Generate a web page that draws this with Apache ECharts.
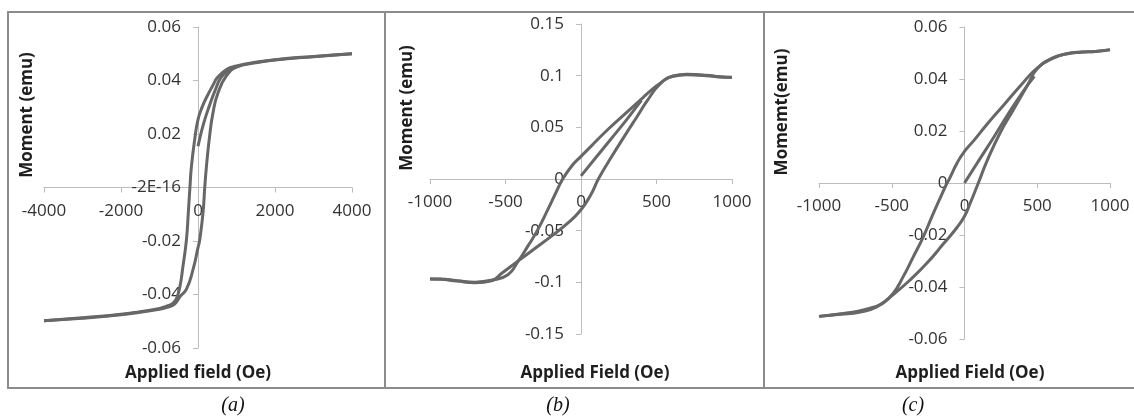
<!DOCTYPE html>
<html lang="en">
<head>
<meta charset="UTF-8">
<title>hysteresis loops</title>
<script src="https://cdn.jsdelivr.net/npm/echarts@6/dist/echarts.min.js"></script>
<style>
  html, body { margin: 0; padding: 0; background: #fff; }
</style>
</head>
<body>
<div id="container" style="width:1134px;height:419px;"></div>

<script>
// ---- panel (a) ----
var aVirginField  = [0, 100, 200, 300, 450, 600, 800, 1000];
var aVirginMoment = [0.0154, 0.0215, 0.0265, 0.0307, 0.0365, 0.0412, 0.0438, 0.0452];
var aDownField  = [4000, 3000, 2000, 1500, 1000, 750, 500, 380, 250, 120, 0, -85, -170, -210, -250, -300, -390, -475, -560, -650, -800, -1000, -1500, -2000, -3000, -4000];
var aDownMoment = [0.0500, 0.0490, 0.0478, 0.0468, 0.0454, 0.0442, 0.0410, 0.0380, 0.0345, 0.0305, 0.0254, 0.0180, 0.0080, 0.0000, -0.0090, -0.0195, -0.0294, -0.0375, -0.0415, -0.0432, -0.0443, -0.0452, -0.0464, -0.0474, -0.0487, -0.0498];
var aUpField  = [-4000, -3000, -2000, -1500, -1000, -800, -650, -560, -450, -300, -130, 0, 45, 130, 175, 220, 300, 390, 520, 740, 1000, 1500, 2000, 3000, 4000];
var aUpMoment = [-0.0498, -0.0489, -0.0476, -0.0466, -0.0455, -0.0448, -0.0440, -0.0428, -0.0405, -0.0380, -0.0307, -0.0225, -0.0195, -0.0095, 0.0000, 0.0080, 0.0190, 0.0280, 0.0354, 0.0418, 0.0450, 0.0466, 0.0477, 0.0489, 0.0500];

// ---- panel (b) ----
var bVirginField  = [0, 100, 200, 300, 400];
var bVirginMoment = [0.003, 0.021, 0.039, 0.057, 0.076];
var bDownField  = [1000, 920, 830, 700, 610, 527, 450, 396, 286, 176, 66, 0, -60, -121, -165, -220, -286, -352, -418, -484, -593, -700, -820, -930, -1000];
var bDownMoment = [0.0984, 0.0990, 0.1005, 0.1013, 0.0997, 0.0930, 0.0840, 0.0768, 0.0623, 0.0477, 0.0316, 0.0219, 0.0128, 0.0000, -0.0128, -0.0297, -0.0490, -0.0650, -0.0800, -0.0926, -0.0980, -0.0998, -0.0985, -0.0968, -0.0967];
var bUpField  = [-1000, -930, -820, -700, -593, -527, -418, -308, -198, -88, 0, 66, 115, 198, 286, 374, 440, 527, 610, 700, 830, 920, 1000];
var bUpMoment = [-0.0967, -0.0970, -0.0988, -0.1003, -0.0985, -0.0915, -0.0795, -0.0675, -0.0555, -0.0428, -0.0297, -0.0150, 0.0000, 0.0205, 0.0410, 0.0610, 0.0760, 0.0925, 0.0995, 0.1010, 0.1000, 0.0987, 0.0982];

// ---- panel (c) ----
var cVirginField  = [0, 100, 200, 300, 400, 480];
var cVirginMoment = [0.0000, 0.0088, 0.0175, 0.0265, 0.0350, 0.0410];
var cDownField  = [1000, 900, 800, 700, 610, 501, 386, 270, 155, 62, 0, -50, -105, -120, -169, -226, -284, -353, -423, -492, -560, -620, -723, -850, -1000];
var cDownMoment = [0.0513, 0.0506, 0.0504, 0.0497, 0.0480, 0.0443, 0.0375, 0.0300, 0.0226, 0.0162, 0.0122, 0.0078, 0.0015, 0.0000, -0.0060, -0.0132, -0.0208, -0.0285, -0.0362, -0.0426, -0.0460, -0.0477, -0.0492, -0.0503, -0.0513];
var cUpField  = [-1000, -850, -723, -607, -492, -376, -261, -145, -53, 0, 39, 95, 155, 247, 339, 432, 501, 610, 700, 800, 900, 1000];
var cUpMoment = [-0.0513, -0.0505, -0.0497, -0.0478, -0.0430, -0.0374, -0.0310, -0.0234, -0.0172, -0.0128, -0.0078, 0.0000, 0.0085, 0.0195, 0.0285, 0.0375, 0.0440, 0.0482, 0.0496, 0.0503, 0.0506, 0.0512];

// axis ranges [min, max, interval] and texts
var xRanges = [[-4000, 4000, 2000], [-1000, 1000, 500], [-1000, 1000, 500]];
var yRanges = [[-0.06, 0.06, 0.02], [-0.15, 0.15, 0.05], [-0.06, 0.06, 0.02]];
var yTitles = ['Moment (emu)', 'Moment (emu)', 'Momemt(emu)'];
var xTitles = ['Applied field (Oe)', 'Applied Field (Oe)', 'Applied Field (Oe)'];
var captions = ['(a)', '(b)', '(c)'];

function zip(xs, ys) {
  var out = [];
  for (var i = 0; i < xs.length; i++) out.push([xs[i], ys[i]]);
  return out;
}

var grids = [
  {left: 44, top: 27, width: 308, height: 321, outerBoundsMode: 'none'},
  {left: 430, top: 24, width: 302, height: 310, outerBoundsMode: 'none'},
  {left: 819, top: 27, width: 291, height: 312, outerBoundsMode: 'none'}
];
var yTitlePos = [[27, 115], [407, 108], [782, 112]];
var xTitlePos = [[198, 373], [595, 373], [970, 373]];
var captionPos = [[233, 406], [558, 406], [913, 406]];

var labelFont = {fontFamily: 'Open Sans', fontSize: 17, color: '#333'};
var axisLineStyle = {color: '#bdbdbd', width: 1};

var xAxes = [], yAxes = [], series = [], graphics = [];
var panels = [
  [aVirginField, aVirginMoment, aDownField, aDownMoment, aUpField, aUpMoment],
  [bVirginField, bVirginMoment, bDownField, bDownMoment, bUpField, bUpMoment],
  [cVirginField, cVirginMoment, cDownField, cDownMoment, cUpField, cUpMoment]
];

for (var p = 0; p < 3; p++) {
  xAxes.push({
    type: 'value', gridIndex: p, position: 'bottom',
    min: xRanges[p][0], max: xRanges[p][1], interval: xRanges[p][2],
    axisLine: {onZero: false, lineStyle: axisLineStyle},
    axisTick: {show: true, length: 5, lineStyle: axisLineStyle},
    splitLine: {show: false},
    axisLabel: Object.assign({margin: 15, formatter: function (v) { return String(v); }}, labelFont)
  });
  yAxes.push({
    type: 'value', gridIndex: p, position: 'left',
    min: yRanges[p][0], max: yRanges[p][1], interval: yRanges[p][2],
    axisLine: {show: true, onZero: false, lineStyle: axisLineStyle},
    axisTick: {show: true, length: 5, lineStyle: axisLineStyle},
    splitLine: {show: false},
    axisLabel: Object.assign({
      margin: 17,
      formatter: (function (pi) {
        return function (v) {
          // excel printed the zero of panel (a) as a float residue
          if (pi === 0 && v === 0) return '-2E-16';
          return String(+v.toFixed(4));
        };
      })(p)
    }, labelFont)
  });

  var d = panels[p];
  var pairs = [zip(d[0], d[1]), zip(d[2], d[3]), zip(d[4], d[5])];
  for (var k = 0; k < 3; k++) {
    series.push({
      type: 'line', xAxisIndex: p, yAxisIndex: p,
      data: pairs[k],
      showSymbol: false, smooth: 0.5,
      lineStyle: {color: '#676767', width: 3},
      z: 3
    });
  }

  graphics.push({
    type: 'text', x: yTitlePos[p][0], y: yTitlePos[p][1], rotation: Math.PI / 2,
    style: {text: yTitles[p], font: 'bold 17px "Open Sans"', fill: '#1e1e1e',
            textAlign: 'center', textVerticalAlign: 'middle'}
  });
  graphics.push({
    type: 'text', x: xTitlePos[p][0], y: xTitlePos[p][1],
    style: {text: xTitles[p], font: 'bold 17px "Open Sans"', fill: '#1e1e1e',
            textAlign: 'center', textVerticalAlign: 'middle'}
  });
  graphics.push({
    type: 'text', x: captionPos[p][0], y: captionPos[p][1],
    style: {text: captions[p], font: 'italic 20px "Liberation Serif"', fill: '#111',
            textAlign: 'center', textVerticalAlign: 'middle'}
  });
}

// panel frame
graphics.push({
  type: 'rect', shape: {x: 8, y: 12, width: 1140, height: 376},
  style: {fill: 'none', stroke: '#8c8c8c', lineWidth: 2}, silent: true
});
graphics.push({type: 'line', shape: {x1: 385, y1: 12, x2: 385, y2: 388},
  style: {stroke: '#8c8c8c', lineWidth: 2}});
graphics.push({type: 'line', shape: {x1: 764, y1: 12, x2: 764, y2: 388},
  style: {stroke: '#8c8c8c', lineWidth: 2}});

var chart = echarts.init(document.getElementById('container'));
chart.setOption({
  animation: false,
  backgroundColor: '#fff',
  grid: grids,
  xAxis: xAxes,
  yAxis: yAxes,
  series: series,
  graphic: {elements: graphics}
});

// move each axis pair so they cross at the origin (Excel style)
var xOff = [], yOff = [];
for (var q = 0; q < 3; q++) {
  var origin = chart.convertToPixel({gridIndex: q}, [0, 0]);
  var corner = chart.convertToPixel({gridIndex: q}, [xRanges[q][0], yRanges[q][0]]);
  xOff.push({offset: -(corner[1] - origin[1])});
  yOff.push({offset: -(origin[0] - corner[0])});
}
chart.setOption({xAxis: xOff, yAxis: yOff});
</script>
</body>
</html>
